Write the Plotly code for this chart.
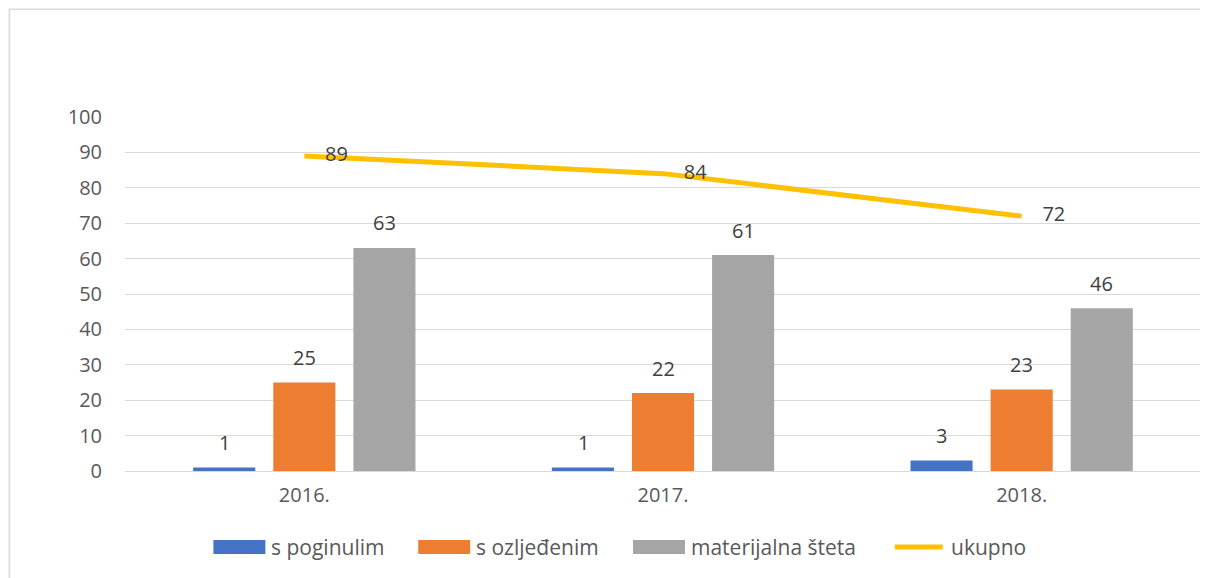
import plotly.graph_objects as go

years = ["2016.", "2017.", "2018."]
poginulim = [1, 1, 3]
ozljedenim = [25, 22, 23]
materijalna = [63, 61, 46]
ukupno = [89, 84, 72]
y_ticks = [0, 10, 20, 30, 40, 50, 60, 70, 80, 90, 100]

FONT = "Open Sans"
W, H = 1200, 570
ML, MR, MT, MB = 116.5, 6.5, 109, 107
pw = W - ML - MR
ph = H - MT - MB

def px_x(sx):
    # screen pixel x (page has 8px offset) -> paper x
    return (sx - 8 - ML) / pw

def px_y(sy):
    return (H - MB - (sy - 8)) / ph

fig = go.Figure()
series = [("s poginulim", poginulim, "#4472C4"),
          ("s ozljeđenim", ozljedenim, "#ED7D31"),
          ("materijalna šteta", materijalna, "#A5A5A5")]
annotations = []
for k, (name, vals, col) in enumerate(series):
    fig.add_trace(go.Bar(
        x=years, y=vals, name=name, marker_color=col, marker_line_width=0,
        showlegend=False,
    ))
    for i, v in enumerate(vals):
        annotations.append(dict(
            x=i, y=v, text=str(v), showarrow=False, xref="x", yref="y",
            xshift=(k - 1) * 80, yshift=25, yanchor="middle",
            font=dict(family=FONT, size=20, color="#404040")))

LINE_COLOR = "#FFC000"
fig.add_trace(go.Scatter(
    x=years, y=ukupno, name="ukupno", mode="lines+text",
    line=dict(color=LINE_COLOR, width=5),
    text=ukupno, texttemplate="\u00a0\u00a0\u00a0\u00a0%{y}",
    textposition="middle right",
    textfont=dict(family=FONT, size=20, color="#404040"),
    cliponaxis=False, showlegend=False,
))

# manual legend (wide swatches like the original)
legend_items = [(series[0][0], series[0][2], "box", 213),
                (series[1][0], series[1][2], "box", 418),
                (series[2][0], series[2][2], "box", 633),
                ("ukupno", LINE_COLOR, "line", 893)]
SW = 52
LEG_Y = 547
shapes = [dict(type="rect", xref="paper", yref="paper",
               x0=px_x(8.75), x1=px_x(W + 30),
               y0=px_y(H + 40), y1=px_y(9.25),
               line=dict(color="#D9D9D9", width=1.5), layer="below")]
for name, col, kind, sx in legend_items:
    if kind == "box":
        shapes.append(dict(type="rect", xref="paper", yref="paper",
                           x0=px_x(sx), x1=px_x(sx + SW),
                           y0=px_y(LEG_Y + 7), y1=px_y(LEG_Y - 7),
                           fillcolor=col, line=dict(width=0)))
    else:
        shapes.append(dict(type="line", xref="paper", yref="paper",
                           x0=px_x(sx + 2), x1=px_x(sx + SW - 2),
                           y0=px_y(LEG_Y), y1=px_y(LEG_Y),
                           line=dict(color=col, width=5)))
    annotations.append(dict(
        x=px_x(sx + SW + 4), y=px_y(LEG_Y), xref="paper", yref="paper",
        text=name, showarrow=False, xanchor="left", yanchor="middle",
        font=dict(family=FONT, size=21, color="#595959")))

fig.update_layout(
    width=W, height=H,
    margin=dict(l=ML, r=MR, t=MT, b=MB),
    paper_bgcolor="white", plot_bgcolor="white",
    barmode="group", bargap=0.33, bargroupgap=0.225,
    font=dict(family=FONT, size=20, color="#595959"),
    showlegend=False,
    xaxis=dict(type="category", showgrid=False, showline=True, linecolor="#D9D9D9",
               linewidth=1, ticks="", ticklabelstandoff=6,
               tickfont=dict(family=FONT, size=20, color="#595959")),
    yaxis=dict(range=[0, 100], tickvals=y_ticks, showgrid=True, gridcolor="#D9D9D9",
               gridwidth=1, zeroline=False, showline=False, ticks="",
               ticklabelstandoff=22,
               tickfont=dict(family=FONT, size=20, color="#595959")),
    annotations=annotations,
    shapes=shapes,
)

fig.write_html("out.html")
